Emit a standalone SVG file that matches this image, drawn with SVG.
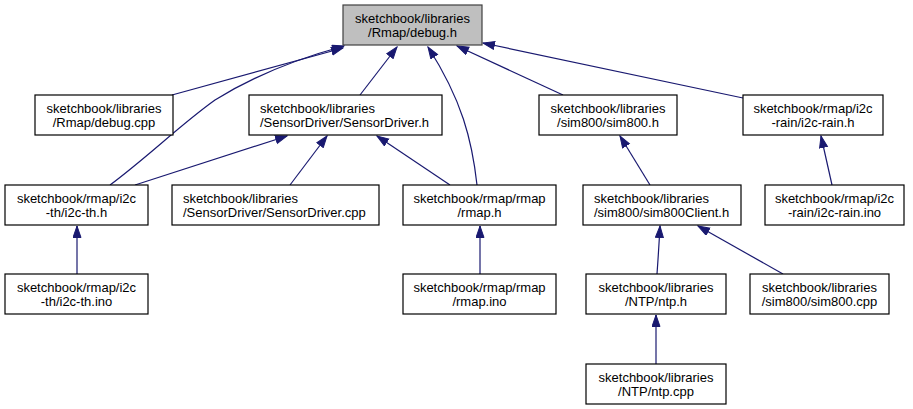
<svg xmlns="http://www.w3.org/2000/svg" width="913" height="409" viewBox="0 0 913 409">
<style>
.n rect{fill:#fff;stroke:#000;stroke-width:1.2}
.n.root rect{fill:#bfbfbf;stroke:#404040}
.n text{font-family:"Liberation Sans",Arial,Helvetica,sans-serif;font-size:13px;fill:#000;text-anchor:middle}
.n.l text{text-anchor:start}
#edges path{fill:none;stroke:#191970;stroke-width:1.2;marker-end:url(#ah)}
</style>
<defs>
<marker id="ah" markerUnits="userSpaceOnUse" markerWidth="13" markerHeight="10" refX="12" refY="4.5" orient="auto">
<path d="M0.5,0.5 L12,4.5 L0.5,8.5 z" fill="#191970" stroke="#191970" stroke-width="1"/>
</marker>
</defs>
<rect width="913" height="409" fill="#fff"/>
<g id="edges">
<path d="M172,95 L343,48"/>
<path d="M110,185 C150,155 180,125 215,100 C255,75 300,58 344,46"/>
<path d="M360,95 L397,47"/>
<path d="M477,185 C472,140 462,100 428,47"/>
<path d="M563,95 L457,46"/>
<path d="M743,98 L483,43"/>
<path d="M135,185 L287,136"/>
<path d="M290,185 L327,136"/>
<path d="M450,185 L377,136"/>
<path d="M650,185 L620,136"/>
<path d="M832,185 L821,136"/>
<path d="M77,274 L77,226"/>
<path d="M480,274 L480,226"/>
<path d="M657,274 C658,260 659,245 660,226"/>
<path d="M783,274 L698,226"/>
<path d="M656,364 L656,315"/>
</g>
<g id="n_debug_h" class="n root"><rect x="343" y="5" width="139" height="40"/><text x="412.5" y="22.5">sketchbook/libraries</text><text x="412.5" y="36.5">/Rmap/debug.h</text></g>
<g id="n_debug_cpp" class="n"><rect x="35" y="95" width="138" height="40"/><text x="104" y="112.5">sketchbook/libraries</text><text x="104" y="126.5">/Rmap/debug.cpp</text></g>
<g id="n_sensordriver_h" class="n l"><rect x="249" y="95" width="193" height="40"/><text x="260" y="112.5">sketchbook/libraries</text><text x="260" y="126.5">/SensorDriver/SensorDriver.h</text></g>
<g id="n_sim800_h" class="n"><rect x="539" y="95" width="138" height="40"/><text x="608" y="112.5">sketchbook/libraries</text><text x="608" y="126.5">/sim800/sim800.h</text></g>
<g id="n_i2crain_h" class="n"><rect x="743" y="95" width="140" height="40"/><text x="813" y="112.5">sketchbook/rmap/i2c</text><text x="813" y="126.5">-rain/i2c-rain.h</text></g>
<g id="n_i2cth_h" class="n"><rect x="5" y="185" width="143" height="40"/><text x="76.5" y="202.5">sketchbook/rmap/i2c</text><text x="76.5" y="216.5">-th/i2c-th.h</text></g>
<g id="n_sensordriver_cpp" class="n l"><rect x="172" y="185" width="207" height="40"/><text x="183" y="202.5">sketchbook/libraries</text><text x="183" y="216.5">/SensorDriver/SensorDriver.cpp</text></g>
<g id="n_rmap_h" class="n"><rect x="403" y="185" width="153" height="40"/><text x="479.5" y="202.5">sketchbook/rmap/rmap</text><text x="479.5" y="216.5">/rmap.h</text></g>
<g id="n_sim800client_h" class="n l"><rect x="583" y="185" width="158" height="40"/><text x="594" y="202.5">sketchbook/libraries</text><text x="594" y="216.5">/sim800/sim800Client.h</text></g>
<g id="n_i2crain_ino" class="n"><rect x="765" y="185" width="139" height="40"/><text x="834.5" y="202.5">sketchbook/rmap/i2c</text><text x="834.5" y="216.5">-rain/i2c-rain.ino</text></g>
<g id="n_i2cth_ino" class="n"><rect x="5" y="274" width="143" height="40"/><text x="76.5" y="291.5">sketchbook/rmap/i2c</text><text x="76.5" y="305.5">-th/i2c-th.ino</text></g>
<g id="n_rmap_ino" class="n"><rect x="403" y="274" width="153" height="40"/><text x="479.5" y="291.5">sketchbook/rmap/rmap</text><text x="479.5" y="305.5">/rmap.ino</text></g>
<g id="n_ntp_h" class="n"><rect x="586" y="274" width="140" height="40"/><text x="656" y="291.5">sketchbook/libraries</text><text x="656" y="305.5">/NTP/ntp.h</text></g>
<g id="n_sim800_cpp" class="n"><rect x="750" y="274" width="139" height="40"/><text x="819.5" y="291.5">sketchbook/libraries</text><text x="819.5" y="305.5">/sim800/sim800.cpp</text></g>
<g id="n_ntp_cpp" class="n"><rect x="586" y="364" width="140" height="40"/><text x="656" y="381.5">sketchbook/libraries</text><text x="656" y="395.5">/NTP/ntp.cpp</text></g>
</svg>
